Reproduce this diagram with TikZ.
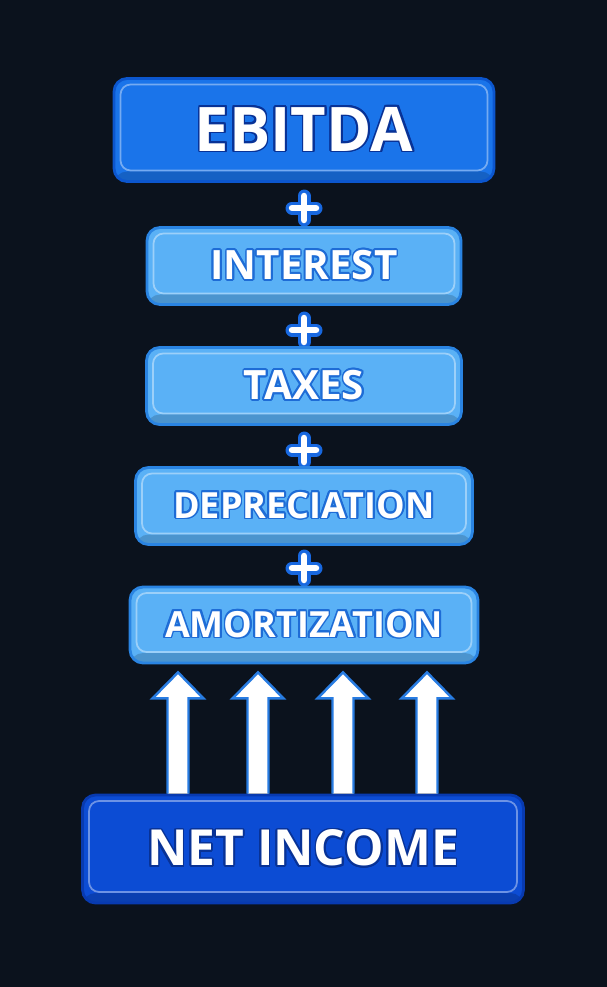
\documentclass[tikz,border=0pt]{standalone}
\usepackage{fontspec}
\setmainfont{Open Sans}
\usepackage{contour}
\usetikzlibrary{calc}
\definecolor{bg}{RGB}{11,18,29}
\definecolor{topfill}{RGB}{26,116,234}
\definecolor{topline}{RGB}{12,86,206}
\definecolor{lightfill}{RGB}{90,177,246}
\definecolor{lightline}{RGB}{42,132,226}
\definecolor{basefill}{RGB}{12,76,212}
\definecolor{baseline}{RGB}{8,58,176}
\definecolor{darktxt}{RGB}{8,50,150}
\definecolor{bluetxt}{RGB}{30,108,214}
\definecolor{plusblue}{RGB}{24,104,224}
\definecolor{arrowline}{RGB}{40,124,226}
\contourlength{1pt}

\begin{document}
\begin{tikzpicture}[x=0.02cm,y=-0.02cm,
	panel/.style={rectangle,rounded corners=0.26cm,line width=1.6pt,text=white,inner sep=0pt,
		path picture={
			\fill[black,opacity=.16]([yshift=0.2cm]path picture bounding box.south west)rectangle(path picture bounding box.south east);
			\draw[white,opacity=.4,line width=1pt,rounded corners=0.2cm]([shift={(0.13cm,-0.12cm)}]path picture bounding box.north west)rectangle([shift={(-0.13cm,0.22cm)}]path picture bounding box.south east);}},
	topbox/.style={panel,fill=topfill,draw=topline,font=\fontsize{35}{40}\selectfont\bfseries},
	itembox/.style={panel,fill=lightfill,draw=lightline,minimum height=1.54cm},
	basebox/.style={panel,fill=basefill,draw=baseline,font=\fontsize{28.3}{34}\selectfont\bfseries},
	plus/.style={rectangle,minimum size=0.8cm,inner sep=0pt,
		path picture={
			\draw[plusblue,line width=0.26cm,line cap=round]([xshift=-0.24cm]path picture bounding box.center)--([xshift=0.24cm]path picture bounding box.center);
			\draw[plusblue,line width=0.26cm,line cap=round]([yshift=-0.24cm]path picture bounding box.center)--([yshift=0.24cm]path picture bounding box.center);
			\draw[white,line width=0.13cm,line cap=round]([xshift=-0.24cm]path picture bounding box.center)--([xshift=0.24cm]path picture bounding box.center);
			\draw[white,line width=0.13cm,line cap=round]([yshift=-0.24cm]path picture bounding box.center)--([yshift=0.24cm]path picture bounding box.center);}},
	uparrow/.style={fill=white,draw=arrowline,line width=1.4pt,line join=miter,
		to path={let \p1=(\tikztostart),\p2=(\tikztotarget) in
			(\x1-0.21cm,\y1)--(\x1-0.21cm,\y2-0.68cm)--(\x1-0.51cm,\y2-0.68cm)--(\x1,\y2-0.16cm)
			--(\x1+0.51cm,\y2-0.68cm)--(\x1+0.21cm,\y2-0.68cm)--(\x1+0.21cm,\y1)}}]
			\useasboundingbox[fill=bg](0,0)rectangle(607,987);
			\node[topbox,minimum width=7.6cm,minimum height=2.06cm](ebitda)at(304,130){\contour{darktxt}{EBITDA}};
			\node[plus](p1)at(304,208){};
			\node[itembox,minimum width=6.28cm,font=\fontsize{23}{28}\selectfont\bfseries](interest)at(304,266){\contour{bluetxt}{INTEREST}};
			\node[plus](p2)at(304,330){};
			\node[itembox,minimum width=6.3cm,font=\fontsize{23}{28}\selectfont\bfseries](taxes)at(304,386){\contour{bluetxt}{TAXES}};
			\node[plus](p3)at(304,450){};
			\node[itembox,minimum width=6.74cm,font=\fontsize{20.5}{25}\selectfont\bfseries](depr)at(304,506){\contour{bluetxt}{DEPRECIATION}};
			\node[plus](p4)at(304,568){};
			\node[itembox,minimum width=6.96cm,minimum height=1.52cm,font=\fontsize{20.5}{25}\selectfont\bfseries](amort)at(304,625){\contour{bluetxt}{AMORTIZATION}};
			\node[basebox,minimum width=8.82cm,minimum height=2.16cm](netinc)at(303,849){\contour{darktxt}{NET INCOME}};
			\draw[uparrow](netinc.north -| 178,0)to(amort.south -| 178,0);
			\draw[uparrow](netinc.north -| 258,0)to(amort.south -| 258,0);
			\draw[uparrow](netinc.north -| 343,0)to(amort.south -| 343,0);
			\draw[uparrow](netinc.north -| 427,0)to(amort.south -| 427,0);
		\end{tikzpicture}
\end{document}
